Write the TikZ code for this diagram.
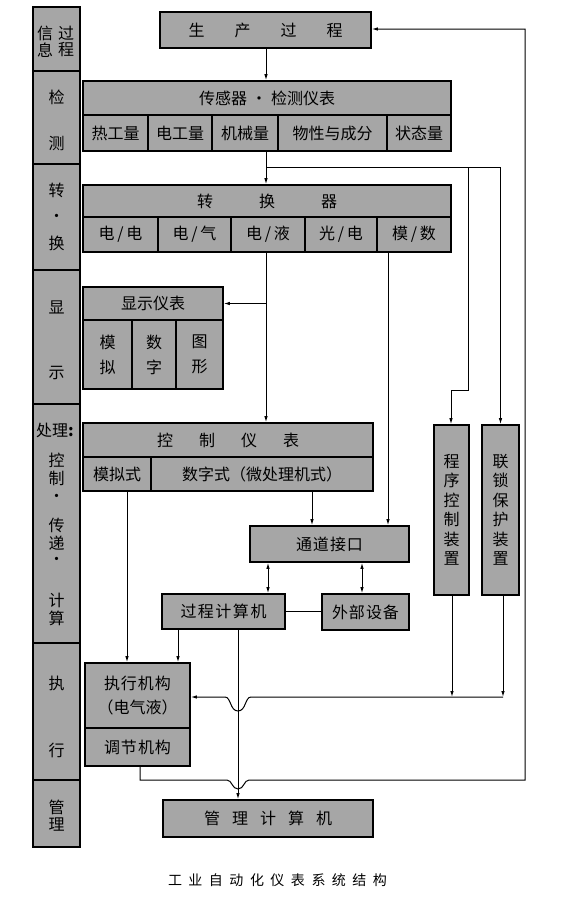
\documentclass[tikz,border=0pt]{standalone}
\usepackage{fontspec}
\setmainfont{Noto Sans CJK SC}
\usetikzlibrary{arrows.meta,calc}
\definecolor{boxgray}{RGB}{166,166,166}
\tikzset{
  cell/.style={draw=black, line width=1.6pt, fill=boxgray, inner sep=0pt, text=black, font=\fontsize{16}{18}\selectfont},
  lbl/.style={inner sep=0pt, text=black, font=\fontsize{16}{18}\selectfont},
  conn/.style={line width=1pt, draw=black},
  arr/.style={conn, -{Latex[length=6pt,width=3.5pt]}},
  darr/.style={conn, {Latex[length=6pt,width=3.5pt]}-{Latex[length=6pt,width=3.5pt]}},
}
\newcommand\mybox[7][]{%
  \pgfmathsetmacro\mybw{#4-#2}\pgfmathsetmacro\mybh{#5-#3}%
  \node[cell,minimum width=\mybw pt,minimum height=\mybh pt,#1] (#6) at ({(#2+#4)/2},{(#3+#5)/2}) {#7};}
\newcommand\myspread[2]{\def\mysgap{#1}\myspreadi#2\relax}
\def\myspreadi#1{\ifx#1\relax\else#1\expandafter\myspreadii\fi}
\def\myspreadii#1{\ifx#1\relax\else\hspace{\mysgap}#1\expandafter\myspreadii\fi}
\begin{document}
\begin{tikzpicture}[x=1pt,y=-1pt]
\fill[white] (0,0) rectangle (569,900);
\useasboundingbox (0,0) rectangle (569,900);

% ---------- left column ----------
\mybox{33}{7}{80}{71}{L1}{}
\mybox{33}{71}{80}{164}{L2}{}
\mybox{33}{164}{80}{270}{L3}{}
\mybox{33}{270}{80}{404}{L4}{}
\mybox{33}{404}{80}{643}{L5}{}
\mybox{33}{643}{80}{780}{L6}{}
\mybox{33}{780}{80}{847}{L7}{}
\node[lbl] (t1) at (45,33) {信};
\node[lbl] (t2) at (66,33) {过};
\node[lbl] (t3) at (45,50) {息};
\node[lbl] (t4) at (66,50) {程};
\foreach \ch/\yy [count=\i] in {检/97,测/143,转/190,换/243,显/307,示/373,控/460,制/478,传/525,递/543,计/600,算/618,执/683,行/750,管/807,理/825}
  \node[lbl] (lc\i) at (56.5,\yy) {\ch};
\foreach \yy [count=\i] in {217,497,560}
  \node[lbl,font=\fontsize{12}{14}\selectfont\bfseries] (ld\i) at (56.5,\yy) {·};
\node[lbl] (lproc) at (55,430) {处理\textbf{:}};

% ---------- production ----------
\mybox{160}{12}{371}{48}{prod}{\myspread{30pt}{生产过程}}

% ---------- sensors ----------
\mybox{83}{81}{451}{115}{stitle}{传感器\hspace{4pt}·\hspace{4pt}检测仪表}
\mybox{83}{115}{148}{151}{s1}{热工量}
\mybox{148}{115}{212}{151}{s2}{电工量}
\mybox{212}{115}{278}{151}{s3}{机械量}
\mybox{278}{115}{387}{151}{s4}{物性与成分}
\mybox{387}{115}{451}{151}{s5}{状态量}

% ---------- converters ----------
\mybox{83}{185}{451}{217}{ctitle}{\myspread{46pt}{转换器}}
\mybox{83}{217}{158}{252}{c1}{电\,/\,电}
\mybox{158}{217}{231}{252}{c2}{电\,/\,气}
\mybox{231}{217}{305}{252}{c3}{电\,/\,液}
\mybox{305}{217}{377}{252}{c4}{光\,/\,电}
\mybox{377}{217}{451}{252}{c5}{模\,/\,数}

% ---------- display ----------
\mybox{83}{287}{223}{320}{dtitle}{显示仪表}
\mybox[align=center,font=\fontsize{16}{25}\selectfont]{83}{320}{132}{389}{d1}{模\\拟}
\mybox[align=center,font=\fontsize{16}{25}\selectfont]{132}{320}{176}{389}{d2}{数\\字}
\mybox[align=center,font=\fontsize{16}{25}\selectfont]{176}{320}{223}{389}{d3}{图\\形}

% ---------- control ----------
\mybox{83}{423}{373}{457}{ktitle}{\myspread{26pt}{控制仪表}}
\mybox{83}{457}{151}{491}{k1}{模拟式}
\mybox{151}{457}{373}{491}{k2}{数字式（微处理机式）}

% ---------- interface, computers ----------
\mybox{250}{526}{409}{562}{iface}{\myspread{1pt}{通道接口}}
\mybox{162}{594}{285}{629}{pc}{\myspread{1.5pt}{过程计算机}}
\mybox{322}{594}{409}{630}{ext}{\myspread{1pt}{外部设备}}

% ---------- sequence / interlock ----------
\mybox[align=center,font=\fontsize{16}{19.5}\selectfont]{434}{425}{469}{595}{seq}{程\\序\\控\\制\\装\\置}
\mybox[align=center,font=\fontsize{16}{19.5}\selectfont]{482}{425}{519}{595}{lock}{联\\锁\\保\\护\\装\\置}

% ---------- actuator ----------
\mybox[align=center,font=\fontsize{16}{24}\selectfont]{85}{663}{190}{728}{act}{\myspread{1pt}{执行机构}\\（电气液）}
\mybox{85}{728}{190}{766}{reg}{\myspread{1pt}{调节机构}}

% ---------- management ----------
\mybox{163}{800}{373}{837}{mgmt}{\myspread{12pt}{管理计算机}}

% ---------- caption ----------
\node[lbl,font=\fontsize{14}{16}\selectfont] (cap) at (277.5,880) {\myspread{6.5pt}{工业自动化仪表系统结构}};

% ---------- helper coordinates ----------
\coordinate (spine) at (266,0);
\coordinate (br) at (266,167);
\coordinate (jog) at (468,390);
\coordinate (seqx) at (451,390);
\coordinate (mx) at (388,0);
\coordinate (kx) at (312,0);
\coordinate (ix1) at (268,0);
\coordinate (ix2) at (362,0);
\coordinate (ax1) at (127,0);
\coordinate (ax2) at (178,0);
\coordinate (vx) at (238,0);
\coordinate (sx1) at (452,0);
\coordinate (sx2) at (503,697);
\coordinate (hy) at (0,697);
\coordinate (fx) at (525,780);
\coordinate (rx) at (140,0);
\coordinate (fy) at (0,29);

% ---------- connectors ----------
\draw[arr] (spine |- prod.south) -- (spine |- stitle.north);
\draw[arr] (spine |- s3.south) -- (spine |- ctitle.north);
\draw[conn] (br) -- (lock.north |- br);
\draw[arr] (lock.north |- br) -- (lock.north);
\draw[arr] (jog |- br) -- (jog) -- (seqx) -- (seqx |- seq.north);
\draw[arr] (spine |- c3.south) -- (spine |- ktitle.north);
\draw[arr] (spine |- dtitle.east) -- (dtitle.east);
\draw[arr] (mx |- c5.south) -- (mx |- iface.north);
\draw[arr] (kx |- k2.south) -- (kx |- iface.north);
\draw[darr] (ix1 |- iface.south) -- (ix1 |- pc.north);
\draw[darr] (ix2 |- iface.south) -- (ix2 |- ext.north);
\draw[conn] (pc.east) -- (pc.east -| ext.west);
\draw[arr] (ax1 |- k1.south) -- (ax1 |- act.north);
\draw[arr] (ax2 |- pc.south) -- (ax2 |- act.north);
\draw[arr] (vx |- pc.south) -- (vx |- mgmt.north);
\draw[arr] (sx1 |- seq.south) -- (sx1 |- hy);
\draw[arr] (sx2 |- lock.south) -- (sx2);
\draw[arr] (sx2) -- (251,697) .. controls (245,697) and (246,711) .. (238,711)
  .. controls (230,711) and (231,697) .. (225,697) -- (act.east |- hy);
\draw[arr] (rx |- reg.south) -- (rx |- fx) -- (227,780)
  .. controls (232,780) and (232,789) .. (238,789)
  .. controls (244,789) and (244,780) .. (249,780) -- (fx) -- (fx |- fy) -- (prod.east |- fy);
\end{tikzpicture}
\end{document}
